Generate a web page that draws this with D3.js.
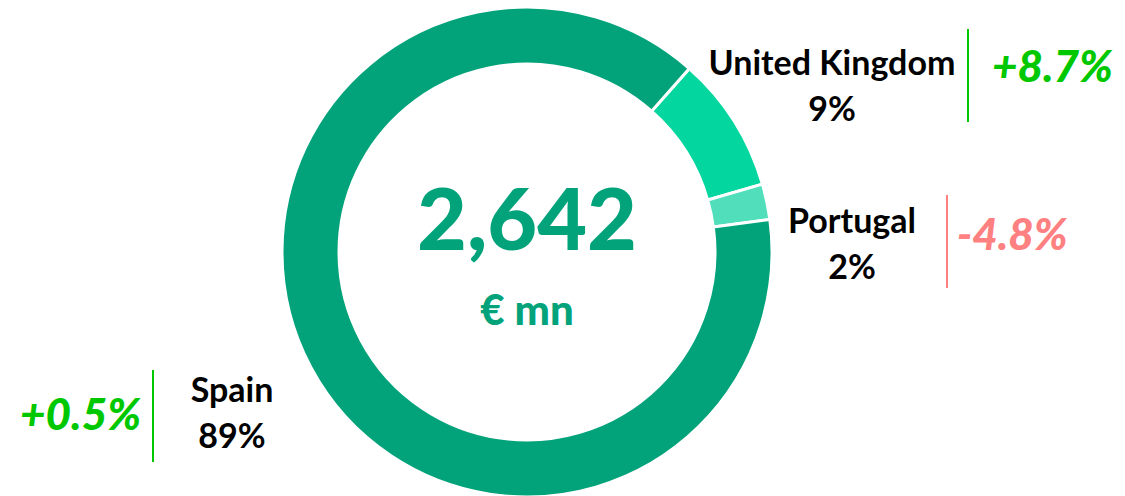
<!DOCTYPE html>
<html>
<head>
<meta charset="utf-8">
<script src="https://cdn.jsdelivr.net/npm/d3@7"></script>
<style>
  body { margin: 0; background: #fff; }
  svg text { font-family: Lato, "Open Sans", sans-serif; font-weight: bold; }
</style>
</head>
<body>
<svg id="chart"></svg>
<script>
// Revenue split by country (€ mn) and year-on-year change
var countries = ["United Kingdom", "Portugal", "Spain"]
var amounts = [238, 62, 2342]
var shareLabels = ["9%", "2%", "89%"]
var changeLabels = ["+8.7%", "-4.8%", "+0.5%"]
var total = "2,642"
var unit = "€ mn"

var vis = {
  "width": 1125,
  "height": 496,
  "cx": 527,
  "cy": 252,
  "outer": 245,
  "inner": 188,
  "startDeg": 41.5,
  "colors": ["#03d69e", "#50dfba", "#02a37a"],
  "changeColors": ["#00c800", "#ff8080", "#00c800"]
}

// label placement per country
var labelPos = [
  {nx: 832, ny: 75, lx: 968, ly1: 29, ly2: 122, tx: 992, ty: 82, anchor: "start"},
  {nx: 852, ny: 233, lx: 947, ly1: 195, ly2: 288, tx: 957, ty: 250, anchor: "start"},
  {nx: 232, ny: 402, lx: 153, ly1: 370, ly2: 462, tx: 141, ty: 430, anchor: "end"}
]

var svg = d3.select("#chart")
  .attr("width", vis.width)
  .attr("height", vis.height)

var start = vis.startDeg * Math.PI / 180
var pie = d3.pie()
  .sort(null)
  .startAngle(start)
  .endAngle(start + 2 * Math.PI)

var arc = d3.arc()
  .innerRadius(vis.inner)
  .outerRadius(vis.outer)

var donut = svg.append("g")
  .attr("transform", "translate(" + vis.cx + "," + vis.cy + ")")

donut.selectAll("path")
  .data(pie(amounts))
  .enter()
  .append("path")
  .attr("d", arc)
  .attr("fill", function(d, i) { return vis.colors[i] })
  .attr("stroke", "#fff")
  .attr("stroke-width", 3)

// centre text
donut.append("text")
  .attr("x", 0)
  .attr("y", -2)
  .attr("text-anchor", "middle")
  .style("font-size", "86px")
  .style("font-weight", "900")
  .attr("fill", "#02a37a")
  .text(total)

donut.append("text")
  .attr("x", 0)
  .attr("y", 73)
  .attr("text-anchor", "middle")
  .style("font-size", "42px")
  .style("font-weight", "900")
  .attr("fill", "#02a37a")
  .text(unit)

// country labels
var labels = svg.selectAll("g.label")
  .data(countries)
  .enter()
  .append("g")
  .attr("class", "label")

labels.append("text")
  .attr("x", function(d, i) { return labelPos[i].nx })
  .attr("y", function(d, i) { return labelPos[i].ny })
  .attr("text-anchor", "middle")
  .style("font-size", "34px")
  .attr("fill", "#000")
  .text(function(d) { return d })

labels.append("text")
  .attr("x", function(d, i) { return labelPos[i].nx })
  .attr("y", function(d, i) { return labelPos[i].ny + 46 })
  .attr("text-anchor", "middle")
  .style("font-size", "34px")
  .attr("fill", "#000")
  .text(function(d, i) { return shareLabels[i] })

labels.append("line")
  .attr("x1", function(d, i) { return labelPos[i].lx })
  .attr("x2", function(d, i) { return labelPos[i].lx })
  .attr("y1", function(d, i) { return labelPos[i].ly1 })
  .attr("y2", function(d, i) { return labelPos[i].ly2 })
  .attr("stroke", function(d, i) { return vis.changeColors[i] })
  .attr("stroke-width", 2)

labels.append("text")
  .attr("x", function(d, i) { return labelPos[i].tx })
  .attr("y", function(d, i) { return labelPos[i].ty })
  .attr("text-anchor", function(d, i) { return labelPos[i].anchor })
  .style("font-size", "44px")
  .style("font-style", "italic")
  .style("font-weight", "900")
  .attr("fill", function(d, i) { return vis.changeColors[i] })
  .text(function(d, i) { return changeLabels[i] })
</script>
</body>
</html>
